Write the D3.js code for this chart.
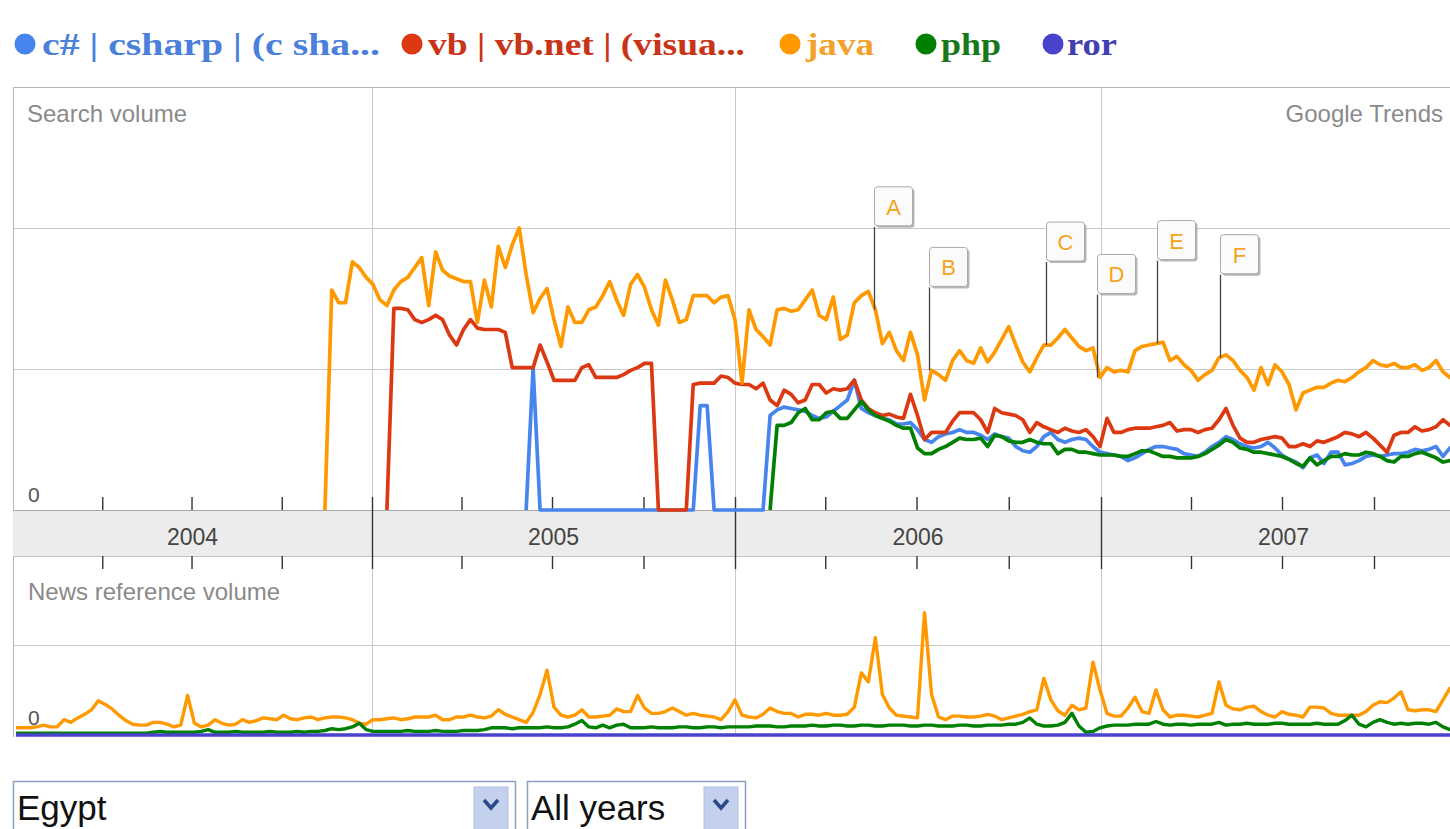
<!DOCTYPE html>
<html>
<head>
<meta charset="utf-8">
<script src="https://cdn.jsdelivr.net/npm/d3@7"></script>
<style>
  body { margin: 0; background: #fff; }
  svg { display: block; }
  text { font-family: "Liberation Sans", Arial, sans-serif; }
</style>
</head>
<body>
<svg width="1450" height="829"></svg>
<script>
// ---- data ----
const seriesNames = ["c# | csharp | (c sha...", "vb | vb.net | (visua...", "java", "php", "ror"];
const seriesColors = ["#4684ee", "#dc3912", "#ff9900", "#008000", "#4942cc"];
const legendTextColors = ["#4a7fdc", "#c93418", "#f3a12a", "#17781a", "#4240b0"];
const yearLabels = ["2004", "2005", "2006", "2007"];

// weekly values, week 0 = 2004-01-04; each series starts at its own week index
const firstWeek = new Date(2004, 0, 4);

const csharpSearchStart = 74;
const csharpSearch = [0, 101, 0, 0, 0, 0, 0, 0, 0, 0, 0, 0, 0, 0, 0, 0, 0, 0, 0, 0, 0, 0, 0, 0, 0, 74, 74, 0, 0, 0, 0, 0, 0, 0, 0,
  67, 71, 73, 72, 71, 70, 67, 65, 66, 70, 74, 78, 92, 72, 69, 67, 65, 64, 61, 61, 62, 57, 50, 48, 52, 54, 55, 57, 55, 55,
  53, 50, 54, 52, 51, 45, 42, 41, 45, 52, 55, 50, 48, 50, 51, 50, 45, 41, 40, 39, 38, 35, 37, 40, 43, 45, 45, 44, 43, 40,
  39, 38, 41, 45, 48, 52, 50, 47, 45, 44, 45, 48, 44, 39, 36, 34, 30, 37, 39, 33, 41, 41, 32, 33, 35, 38, 39, 38, 39, 40,
  40, 41, 43, 42, 43, 45, 38, 44, 43];

const vbSearchStart = 54;
const vbSearch = [0, 143, 143, 142, 135, 133, 135, 138, 135, 124, 117, 128, 135, 129, 128, 128, 128, 126, 101, 101, 101, 101,
  117, 105, 92, 92, 92, 92, 101, 103, 94, 94, 94, 94, 96, 99, 101, 104, 104, 0, 0, 0, 0, 0, 89, 90, 90, 90, 95, 94, 90, 89,
  89, 86, 90, 78, 74, 85, 82, 76, 78, 89, 89, 83, 86, 85, 86, 92, 78, 72, 69, 67, 68, 66, 65, 82, 67, 50, 55, 55, 55, 63,
  69, 69, 69, 64, 55, 72, 69, 68, 67, 64, 55, 62, 59, 57, 55, 58, 56, 55, 57, 52, 45, 65, 55, 55, 57, 58, 58, 58, 59, 60,
  62, 56, 57, 57, 55, 57, 58, 64, 72, 60, 51, 48, 48, 50, 51, 52, 51, 45, 45, 47, 45, 49, 48, 50, 52, 55, 54, 52, 55, 51,
  46, 41, 53, 55, 55, 59, 56, 57, 59, 64, 60, 60];

const javaSearchStart = 45;
const javaSearch = [0, 156, 147, 147, 176, 172, 165, 160, 149, 145, 156, 162, 165, 172, 179, 145, 183, 170, 166, 164, 162,
  162, 133, 163, 144, 187, 172, 188, 200, 167, 140, 150, 157, 135, 116, 144, 133, 133, 142, 144, 152, 162, 149, 138, 160,
  167, 158, 142, 131, 163, 149, 133, 135, 152, 152, 152, 147, 151, 152, 135, 90, 142, 128, 123, 117, 142, 143, 141, 142,
  149, 156, 138, 135, 151, 121, 124, 147, 152, 155, 142, 118, 126, 113, 106, 126, 110, 78, 99, 96, 92, 106, 113, 106, 104,
  115, 105, 112, 121, 130, 117, 105, 98, 108, 117, 117, 122, 128, 122, 116, 113, 115, 94, 101, 98, 99, 98, 113, 116, 117,
  118, 119, 106, 109, 103, 99, 92, 96, 99, 108, 110, 106, 99, 94, 85, 101, 89, 103, 98, 89, 71, 83, 85, 87, 87, 90, 92, 91,
  94, 98, 101, 106, 103, 102, 104, 101, 101, 103, 99, 101, 106, 98, 94, 92];

const phpSearchStart = 109;
const phpSearch = [0, 60, 60, 62, 69, 72, 64, 64, 69, 70, 65, 65, 71, 77, 71, 67, 65, 63, 60, 58, 58, 44, 40, 40, 43, 45, 48,
  51, 50, 50, 51, 45, 53, 52, 49, 48, 48, 50, 48, 47, 47, 40, 43, 43, 41, 41, 40, 39, 39, 39, 38, 38, 40, 42, 42, 40, 38, 38,
  37, 37, 37, 38, 40, 43, 46, 50, 48, 44, 43, 41, 41, 40, 39, 38, 36, 33, 31, 37, 32, 35, 38, 38, 40, 39, 39, 41, 40, 38, 35,
  34, 38, 38, 40, 41, 39, 37, 34, 35, 37];

const javaNewsStart = 0;
const javaNews = [8, 8, 8, 9, 11, 9, 9, 17, 14, 19, 23, 28, 38, 34, 29, 22, 16, 12, 11, 11, 14, 14, 12, 9, 11, 44, 13, 9, 11,
  17, 13, 11, 12, 17, 14, 16, 19, 18, 17, 22, 18, 17, 19, 20, 17, 19, 20, 20, 19, 17, 13, 12, 17, 17, 18, 19, 17, 18, 20, 20,
  20, 22, 17, 17, 20, 20, 22, 20, 19, 21, 28, 23, 20, 17, 14, 25, 45, 72, 31, 22, 20, 22, 28, 20, 20, 21, 22, 29, 26, 26, 44,
  30, 24, 24, 26, 30, 26, 22, 24, 22, 21, 20, 17, 26, 39, 22, 20, 19, 23, 30, 26, 24, 24, 20, 23, 23, 22, 24, 22, 22, 23, 31,
  69, 59, 108, 45, 30, 22, 21, 20, 19, 136, 45, 20, 17, 21, 21, 20, 20, 21, 23, 21, 17, 19, 21, 23, 26, 28, 63, 39, 27, 22,
  33, 28, 30, 81, 50, 24, 21, 21, 30, 42, 26, 24, 50, 28, 20, 22, 22, 21, 20, 22, 24, 59, 33, 29, 28, 31, 32, 26, 22, 20, 26,
  23, 22, 20, 31, 31, 30, 24, 22, 22, 22, 22, 26, 33, 37, 36, 41, 48, 28, 27, 28, 28, 26, 39, 52, 39];

const phpNewsStart = 0;
const phpNews = [2, 2, 2, 2, 2, 2, 2, 2, 2, 2, 2, 2, 2, 2, 2, 2, 2, 2, 2, 2, 3, 4, 3, 3, 3, 3, 3, 4, 6, 3, 3, 3, 4, 3, 3, 3,
  3, 4, 3, 3, 3, 4, 3, 4, 4, 5, 7, 6, 7, 9, 13, 6, 4, 4, 4, 4, 4, 5, 4, 4, 4, 5, 4, 4, 4, 5, 5, 5, 6, 8, 8, 8, 7, 8, 8, 8, 8,
  9, 8, 8, 9, 12, 16, 9, 8, 11, 8, 11, 12, 8, 8, 8, 9, 8, 8, 8, 9, 9, 8, 8, 9, 9, 8, 9, 9, 9, 9, 10, 10, 10, 9, 9, 10, 10, 10,
  11, 10, 10, 11, 11, 10, 10, 11, 11, 10, 10, 11, 11, 11, 10, 10, 11, 11, 10, 10, 10, 11, 11, 10, 10, 11, 11, 11, 12, 12, 14,
  19, 12, 10, 10, 11, 14, 24, 10, 3, 4, 8, 10, 11, 11, 11, 12, 12, 12, 15, 12, 11, 12, 12, 11, 12, 12, 12, 14, 11, 12, 12, 13,
  12, 12, 12, 13, 13, 12, 12, 12, 12, 13, 12, 12, 12, 16, 22, 12, 9, 14, 17, 14, 12, 13, 12, 13, 13, 12, 14, 9, 6, 5];

const rorNewsWeeks = [0, 207];
const rorNews = [0, 0];

const flagLetters = ["A", "B", "C", "D", "E", "F"];
const flagDates = ["2006-05-20", "2006-07-13", "2006-11-07", "2006-12-28", "2007-02-26", "2007-04-30"];

const regionOptions = ["Egypt", "All years"];

// ---- layout ----
const svg = d3.select("svg"),
    width = +svg.attr("width"),
    height = +svg.attr("height");

const plotLeft = 13;
const searchTop = 87, searchZero = 510;
const bandBottom = 556, newsZero = 735, newsBottom = 737;

const x = d3.scaleTime()
    .domain([new Date(2004, 0, 1), new Date(2005, 0, 1), new Date(2006, 0, 1), new Date(2007, 0, 1), new Date(2008, 0, 1)])
    .range([13, 372, 735, 1101, 1466]);

const ySearch = d3.scaleLinear().domain([0, 300]).range([searchZero, searchTop]);
const yNews = d3.scaleLinear().domain([0, 200]).range([newsZero, bandBottom - 1]);

const weekDate = i => d3.timeDay.offset(firstWeek, 7 * i);
const toPoints = (values, start) => values.map((v, i) => ({ date: weekDate(start + i), value: v }));

const searchSeries = [
    { color: seriesColors[0], pts: toPoints(csharpSearch, csharpSearchStart) },
    { color: seriesColors[1], pts: toPoints(vbSearch, vbSearchStart) },
    { color: seriesColors[2], pts: toPoints(javaSearch, javaSearchStart) },
    { color: seriesColors[3], pts: toPoints(phpSearch, phpSearchStart) }
];
const newsSeries = [
    { color: seriesColors[2], pts: toPoints(javaNews, javaNewsStart) },
    { color: seriesColors[3], pts: toPoints(phpNews, phpNewsStart) },
    { color: seriesColors[4], pts: rorNews.map((v, i) => ({ date: weekDate(rorNewsWeeks[i]), value: v })) }
];

// ---- legend ----
const legendDotX = [25, 412, 790, 926, 1053];
const legendTextX = [42, 428, 806, 941, 1067];
const legendTextW = [338, 317, 68, 60, 50];

const legend = svg.append("g")
    .selectAll("g")
    .data(seriesNames)
    .join("g");

legend.append("circle")
    .attr("cx", (d, i) => legendDotX[i])
    .attr("cy", 44)
    .attr("r", 10.5)
    .attr("fill", (d, i) => seriesColors[i]);

legend.append("text")
    .attr("x", (d, i) => legendTextX[i])
    .attr("y", 55)
    .attr("textLength", (d, i) => legendTextW[i])
    .attr("lengthAdjust", "spacingAndGlyphs")
    .style("font-family", "'Liberation Serif', serif")
    .style("font-weight", "bold")
    .style("font-size", "31px")
    .attr("fill", (d, i) => legendTextColors[i])
    .text(d => d);

// ---- frame, grid, band ----
const years = yearLabels.map(y => new Date(+y, 0, 1)).concat([new Date(2008, 0, 1)]);
const quarters = d3.timeMonth.every(3).range(new Date(2004, 0, 1), new Date(2008, 0, 2))
    .filter(d => d.getMonth() !== 0);

// horizontal grid lines
svg.append("g")
    .selectAll("line")
    .data([100, 200])
    .join("line")
    .attr("x1", plotLeft).attr("x2", width)
    .attr("y1", d => Math.round(ySearch(d)) + 0.5)
    .attr("y2", d => Math.round(ySearch(d)) + 0.5)
    .attr("stroke", "#c9c9c9");

svg.append("line")
    .attr("x1", plotLeft).attr("x2", width)
    .attr("y1", Math.round(yNews(100)) + 0.5).attr("y2", Math.round(yNews(100)) + 0.5)
    .attr("stroke", "#c9c9c9");

// vertical year grid lines in both panels
const vgrid = svg.append("g");
vgrid.selectAll(".vs")
    .data(years.slice(1))
    .join("line")
    .attr("x1", d => Math.round(x(d)) + 0.5).attr("x2", d => Math.round(x(d)) + 0.5)
    .attr("y1", searchTop).attr("y2", searchZero)
    .attr("stroke", "#c9c9c9");
vgrid.selectAll(".vn")
    .data(years.slice(1))
    .join("line")
    .attr("x1", d => Math.round(x(d)) + 0.5).attr("x2", d => Math.round(x(d)) + 0.5)
    .attr("y1", bandBottom).attr("y2", newsBottom)
    .attr("stroke", "#c9c9c9");

// frame
svg.append("line")
    .attr("x1", plotLeft).attr("x2", width)
    .attr("y1", searchTop + 0.5).attr("y2", searchTop + 0.5)
    .attr("stroke", "#b5b5b5");
svg.append("line")
    .attr("x1", plotLeft + 0.5).attr("x2", plotLeft + 0.5)
    .attr("y1", searchTop).attr("y2", newsBottom)
    .attr("stroke", "#b5b5b5");

// gray date band
svg.append("rect")
    .attr("x", plotLeft).attr("y", searchZero)
    .attr("width", width - plotLeft).attr("height", bandBottom - searchZero)
    .attr("fill", "#ececec");
svg.append("line")
    .attr("x1", plotLeft).attr("x2", width)
    .attr("y1", searchZero + 0.5).attr("y2", searchZero + 0.5)
    .attr("stroke", "#a8a8a8");
svg.append("line")
    .attr("x1", plotLeft).attr("x2", width)
    .attr("y1", bandBottom + 0.5).attr("y2", bandBottom + 0.5)
    .attr("stroke", "#c4c4c4");

// quarter ticks above and below the band
const tickTop = d3.axisTop(x).tickValues(quarters).tickSize(13).tickFormat("");
const tickBottom = d3.axisBottom(x).tickValues(quarters).tickSize(13).tickFormat("");
const yearTicks = d3.axisBottom(x).tickValues(years.slice(1, 4)).tickSize(72).tickFormat("");

[svg.append("g").attr("transform", `translate(0,${searchZero})`).call(tickTop),
 svg.append("g").attr("transform", `translate(0,${bandBottom})`).call(tickBottom),
 svg.append("g").attr("transform", `translate(0,${searchZero - 13})`).call(yearTicks)]
    .forEach(g => {
        g.select(".domain").remove();
        g.selectAll(".tick line").attr("stroke", "#333").attr("stroke-width", 1.4);
    });

svg.append("g")
    .selectAll("text")
    .data(yearLabels)
    .join("text")
    .attr("x", (d, i) => (x(years[i]) + x(years[i + 1])) / 2)
    .attr("y", 545)
    .attr("text-anchor", "middle")
    .style("font-size", "23px")
    .attr("fill", "#444")
    .text(d => d);

// panel labels
svg.append("text").attr("x", 27).attr("y", 122)
    .style("font-size", "24px").attr("fill", "#8a8a8a").text("Search volume");
svg.append("text").attr("x", 1443).attr("y", 122).attr("text-anchor", "end")
    .style("font-size", "24px").attr("fill", "#8a8a8a").text("Google Trends");
svg.append("text").attr("x", 28).attr("y", 600)
    .style("font-size", "24px").attr("fill", "#8a8a8a").text("News reference volume");
svg.append("text").attr("x", 28).attr("y", 502)
    .style("font-size", "21px").attr("fill", "#555").text("0");

// ---- lines ----
const lineSearch = d3.line().x(d => x(d.date)).y(d => ySearch(d.value));
const lineNews = d3.line().x(d => x(d.date)).y(d => yNews(d.value));

svg.append("g")
    .selectAll("path")
    .data(searchSeries)
    .join("path")
    .attr("d", d => lineSearch(d.pts))
    .attr("fill", "none")
    .attr("stroke", d => d.color)
    .attr("stroke-width", 3.7)
    .attr("stroke-linejoin", "round");

svg.append("g")
    .selectAll("path")
    .data(newsSeries)
    .join("path")
    .attr("d", d => lineNews(d.pts))
    .attr("fill", "none")
    .attr("stroke", d => d.color)
    .attr("stroke-width", 3.4)
    .attr("stroke-linejoin", "round");

svg.append("text").attr("x", 28).attr("y", 725)
    .style("font-size", "21px").attr("fill", "#555").text("0");

// ---- flags on the java line ----
const parseDay = d3.timeParse("%Y-%m-%d");
const flags = flagLetters.map((letter, i) => {
    const date = parseDay(flagDates[i]);
    const week = Math.round(d3.timeDay.count(firstWeek, date) / 7);
    const yLine = ySearch(javaSearch[week - javaSearchStart]);
    return { letter, px: Math.round(x(date)) + 0.5, yLine };
});

const flag = svg.append("g")
    .selectAll("g")
    .data(flags)
    .join("g");

flag.append("line")
    .attr("x1", d => d.px).attr("x2", d => d.px)
    .attr("y1", d => d.yLine - 83).attr("y2", d => d.yLine)
    .attr("stroke", "#444").attr("stroke-width", 1.3);

flag.append("rect")
    .attr("x", d => d.px + 2).attr("y", d => d.yLine - 83 - 38)
    .attr("width", 38).attr("height", 39).attr("rx", 3)
    .attr("fill", "#999").attr("opacity", 0.7);

flag.append("rect")
    .attr("x", d => d.px).attr("y", d => d.yLine - 83 - 40)
    .attr("width", 38).attr("height", 39).attr("rx", 3)
    .attr("fill", "#fbfbfb").attr("stroke", "#aaa");

flag.append("text")
    .attr("x", d => d.px + 19).attr("y", d => d.yLine - 83 - 12)
    .attr("text-anchor", "middle")
    .style("font-size", "22px")
    .attr("fill", "#f4a31c")
    .text(d => d.letter);

// ---- dropdowns ----
const boxX = [13, 527], boxW = [502, 218];
const dd = svg.append("g")
    .selectAll("g")
    .data(regionOptions)
    .join("g");

dd.append("rect")
    .attr("x", (d, i) => boxX[i] + 0.5).attr("y", 781.5)
    .attr("width", (d, i) => boxW[i]).attr("height", 60)
    .attr("fill", "#fff").attr("stroke", "#8aa0bd").attr("stroke-width", 1.5);

dd.append("rect")
    .attr("x", (d, i) => boxX[i] + boxW[i] - 41).attr("y", 787)
    .attr("width", 34).attr("height", 50)
    .attr("fill", "#c3d0ee").attr("stroke", "#b0c0e4");

dd.append("path")
    .attr("d", (d, i) => {
        const cx = boxX[i] + boxW[i] - 24;
        return `M${cx - 7},${800} L${cx},${808} L${cx + 7},${800}`;
    })
    .attr("fill", "none").attr("stroke", "#2c4a8a").attr("stroke-width", 3.5);

dd.append("text")
    .attr("x", (d, i) => boxX[i] + 4).attr("y", 820)
    .style("font-size", "35px").attr("fill", "#111")
    .text(d => d);
</script>
</body>
</html>
